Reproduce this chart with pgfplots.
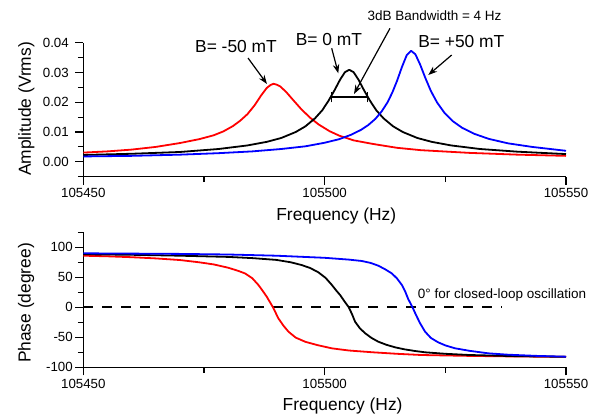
\documentclass[border=0pt]{standalone}
\usepackage{fontspec}
\setmainfont{Liberation Sans}
\usepackage{pgfplots}
\pgfplotsset{compat=1.18}
\usetikzlibrary{arrows.meta}
\newcommand\fbig{\fontsize{17.4bp}{20bp}\selectfont}
\newcommand\fsmall{\fontsize{13.5bp}{16bp}\selectfont}
\newcommand\ftick{\fontsize{13.3bp}{15bp}\selectfont}
\definecolor{cred}{RGB}{255,0,0}
\definecolor{cblue}{RGB}{0,0,255}
\pgfplotsset{myax/.style={
  scale only axis, width=482.7bp,
  axis lines=left, axis line style={-, line width=1.3bp, black},
  tick align=outside, major tick length=8bp, minor tick length=5.5bp,
  every tick/.style={line width=1.1bp, black},
  xmin=0, xmax=100, xtick={0,50,100}, xticklabels={105450,105500,105550},
  minor xtick={25,75}, scaled ticks=false,
  xticklabel style={font=\ftick, anchor=base, yshift=-13.2bp},
  yticklabel style={font=\ftick, anchor=east, xshift=-3bp},
  every axis plot/.append style={line width=1.8bp, line join=round},
}}
\begin{document}
\begin{tikzpicture}
\path[use as bounding box] (0,0) rectangle (596bp,-414bp);
% ---------------- amplitude ----------------
\begin{axis}[myax, at={(83.3bp,-176.7bp)}, anchor=south west, height=134bp,
  ymin=-0.005, ymax=0.04, ytick={0,0.01,0.02,0.03,0.04},
  yticklabels={0.00,0.01,0.02,0.03,0.04},
  minor ytick={-0.005,0.005,0.015,0.025,0.035}]
\addplot[cred] coordinates {(0,0.0031) (5,0.0035) (10,0.0041) (15,0.0050) (20,0.0063) (24,0.0076) (27,0.0089) (29,0.0102) (31,0.0120) (32.5,0.0138) (34,0.0160) (35.5,0.0190) (36.8,0.0222) (38,0.0248) (38.8,0.0258) (39.4,0.0262) (40.1,0.0259) (40.8,0.0253) (42,0.0235) (43.5,0.0207) (45.2,0.0176) (47,0.0148) (48.7,0.0126) (51,0.0103) (53,0.0088) (56,0.0072) (60,0.0060) (65,0.0047) (70,0.0039) (80,0.0030) (90,0.0024) (100,0.0020)};
\addplot[black] coordinates {(0,0.0023) (10,0.0027) (20,0.0033) (28,0.0043) (34,0.0055) (38,0.0067) (41,0.0080) (44,0.0100) (46,0.0119) (48,0.0146) (49.5,0.0173) (50.8,0.0205) (52,0.0239) (53.2,0.0276) (54.2,0.0301) (55.1,0.0309) (56,0.0301) (57,0.0276) (58.2,0.0239) (59.4,0.0205) (60.7,0.0173) (62.2,0.0146) (64.2,0.0119) (66.2,0.0100) (69.2,0.0080) (72.2,0.0067) (76.2,0.0055) (82.2,0.0043) (90,0.0034) (100,0.0026)};
\addplot[cblue] coordinates {(0,0.0018) (10,0.0020) (20,0.0024) (28,0.0029) (35,0.0035) (41,0.0043) (46,0.0052) (50,0.0064) (53,0.0076) (55.5,0.0091) (57.5,0.0107) (59,0.0123) (60.5,0.0144) (61.8,0.0169) (63,0.0199) (64,0.0232) (65,0.0272) (66,0.0318) (67,0.0358) (67.9,0.0373) (68.8,0.0361) (69.8,0.0326) (70.8,0.0284) (72,0.0238) (73.3,0.0199) (74.8,0.0165) (76.5,0.0137) (78.5,0.0114) (81,0.0094) (84,0.0077) (88,0.0062) (93,0.0050) (100,0.0037)};
% 3 dB bandwidth bar
\draw[line width=1.5bp] (axis cs:51.5,0.0217) -- (axis cs:58.9,0.0217);
\draw[line width=1.2bp] (axis cs:51.5,0.0200) -- (axis cs:51.5,0.0234);
\draw[line width=1.2bp] (axis cs:58.9,0.0200) -- (axis cs:58.9,0.0234);
\end{axis}
% ---------------- phase ----------------
\begin{axis}[myax, at={(83.3bp,-367.3bp)}, anchor=south west, height=135bp,
  ymin=-100, ymax=125, ytick={-100,-50,0,50,100},
  yticklabels={-100,-50,0,50,100},
  minor ytick={-75,-25,25,75,125},
  yticklabel style={xshift=4bp}]
\addplot[black, line width=1.8bp, dash pattern=on 10bp off 9bp] coordinates {(0,0) (86.7,0)};
\addplot[cred] coordinates {(0,86.0) (5,85.0) (10,83.5) (15,81.5) (20,78.8) (24,75.0) (27,71.5) (30,66.0) (32,61.0) (33.5,56.5) (35,48.5) (36.3,37.0) (37.2,27.0) (38,17.7) (39.3,0) (40.4,-18.3) (41.5,-31.0) (42.5,-40.6) (44,-50.5) (46,-57.5) (48.5,-63.0) (51.5,-68.4) (55,-72.0) (60,-75.0) (65,-77.5) (70,-79.5) (80,-81.0) (90,-82.0) (100,-82.5)};
\addplot[black] coordinates {(0,88.5) (10,87.5) (20,86.0) (30,84.0) (35,82.0) (40,79.0) (43,75.0) (45.2,70.5) (47,65.5) (48.7,58.3) (50.2,49.0) (51.5,37.2) (52.4,28.0) (53.2,20.5) (54.1,10.0) (55.0,0) (55.7,-12.0) (56.3,-24.0) (57.3,-35.0) (58.4,-43.3) (59.7,-51.0) (61.1,-57.3) (62.8,-62.5) (64.6,-66.7) (66.5,-70.0) (68.7,-72.8) (70.8,-75.0) (75,-77.5) (80,-79.5) (90,-81.5) (100,-82.5)};
\addplot[cblue] coordinates {(0,90.0) (10,89.5) (20,89.0) (30,88.0) (40,86.0) (50,82.5) (55,79.5) (57.7,77.2) (59.5,74.0) (61.1,69.4) (62.5,63.5) (63.9,56.6) (65.0,48.0) (66.0,37.2) (66.7,26.0) (67.3,14.0) (68.2,0) (69.0,-14.0) (69.8,-27.0) (70.8,-40.6) (72.0,-51.0) (73.5,-58.3) (75.0,-63.5) (77.0,-68.3) (80.0,-72.5) (83.9,-76.7) (88,-79.0) (94,-81.0) (100,-82.3)};
\end{axis}
% ---------------- labels ----------------
\node[font=\fbig, rotate=90, anchor=base] at (30.8bp,-109bp) {Amplitude (Vrms)};
\node[font=\fbig, rotate=90, anchor=base] at (30.5bp,-303bp) {Phase (degree)};
\node[font=\fbig, anchor=base] at (336.3bp,-220.5bp) {Frequency (Hz)};
\node[font=\fbig, anchor=base] at (342.6bp,-410bp) {Frequency (Hz)};
% annotations
\node[font=\fbig, anchor=base] at (236bp,-52.8bp) {B= -50 mT};
\node[font=\fbig, anchor=base] at (329bp,-45.3bp) {B= 0 mT};
\node[font=\fbig, anchor=base] at (461.3bp,-47.5bp) {B= +50 mT};
\node[font=\fsmall, anchor=base] at (434.5bp,-20.3bp) {3dB Bandwidth = 4 Hz};
\node[font=\fsmall, anchor=base west, inner sep=0pt] at (417.7bp,-298bp) {0° for closed-loop oscillation};
\draw[line width=1.2bp, -{Stealth[length=9bp,width=6.5bp]}] (248bp,-58bp) -- (267bp,-84bp);
\draw[line width=1.2bp, -{Stealth[length=9bp,width=6.5bp]}] (331.7bp,-48.3bp) -- (338.3bp,-73.3bp);
\draw[line width=1.2bp, -{Stealth[length=9bp,width=6.5bp]}] (451.7bp,-55bp) -- (428.3bp,-75bp);
\draw[line width=1.2bp, -{Stealth[length=9bp,width=6.5bp]}] (390bp,-28.3bp) -- (354bp,-94bp);
\end{tikzpicture}
\end{document}
